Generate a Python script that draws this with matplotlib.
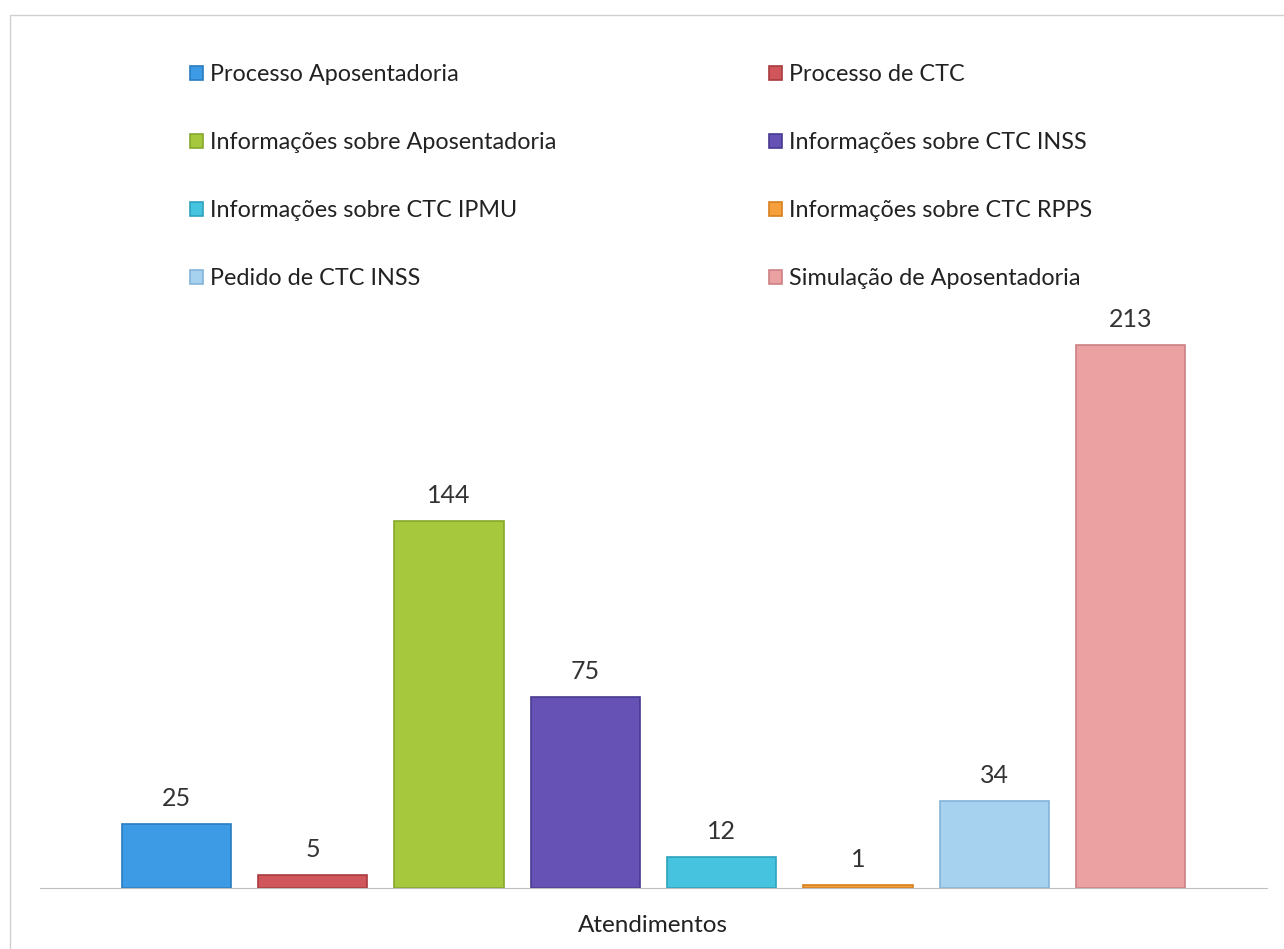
import matplotlib.pyplot as plt
from matplotlib.patches import Rectangle

categories = [
    "Processo Aposentadoria",
    "Processo de CTC",
    "Informações sobre Aposentadoria",
    "Informações sobre CTC INSS",
    "Informações sobre CTC IPMU",
    "Informações sobre CTC RPPS",
    "Pedido de CTC INSS",
    "Simulação de Aposentadoria",
]
values = [25, 5, 144, 75, 12, 1, 34, 213]
colors = ["#3d9be6", "#d0565b", "#a6c83c", "#6552b4",
          "#45c3df", "#f5a03c", "#a6d2f0", "#eba0a2"]
edges = ["#2a7cc0", "#a83c40", "#86a82a", "#483a92",
         "#2ea2bd", "#d8801e", "#82b4d8", "#cc8084"]
axis_label = "Atendimentos"

W, H = 1284, 949
fig = plt.figure(figsize=(W / 100, H / 100), dpi=100)
plt.rcParams["font.family"] = ["Lato", "DejaVu Sans"]

# outer chart border
fig.add_artist(Rectangle((10 / W, -0.05), 1.1, (H - 15) / H + 0.05,
                         transform=fig.transFigure, fill=False,
                         edgecolor="#d0d0d0", linewidth=1))

top_px = 300
ax = fig.add_axes([40 / W, (H - 888) / H, 1227 / W, (888 - top_px) / H])
x = list(range(len(values)))
bars = ax.bar(x, values, width=0.8, color=colors, edgecolor=edges,
              linewidth=1.2, label=categories)
ax.set_xlim(-1, 8)
ax.set_ylim(0, (888 - top_px) / 2.549)

for xi, v in zip(x, values):
    ax.text(xi, v + 5.5, str(v), ha="center", va="bottom",
            fontsize=18, color="#333333")

for s in ["top", "right", "left"]:
    ax.spines[s].set_visible(False)
ax.spines["bottom"].set_color("#bfbfbf")
ax.set_xticks([])
ax.set_yticks([])

fig.text(653 / W, (H - 925) / H, axis_label, ha="center", va="center",
         fontsize=17.5, color="#222222")

order = [0, 2, 4, 6, 1, 3, 5, 7]
handles = [bars[i] for i in order]
labels = [categories[i] for i in order]
fig.legend(handles, labels, ncol=2, loc="upper left",
           bbox_to_anchor=(169 / W, (H - 43) / H), frameon=False,
           fontsize=16.8, handlelength=0.55, handleheight=0.55,
           handletextpad=0.3, labelspacing=2.02, columnspacing=9.13,
           labelcolor="#222222")

fig.savefig("out.png", dpi=100, facecolor="white")
